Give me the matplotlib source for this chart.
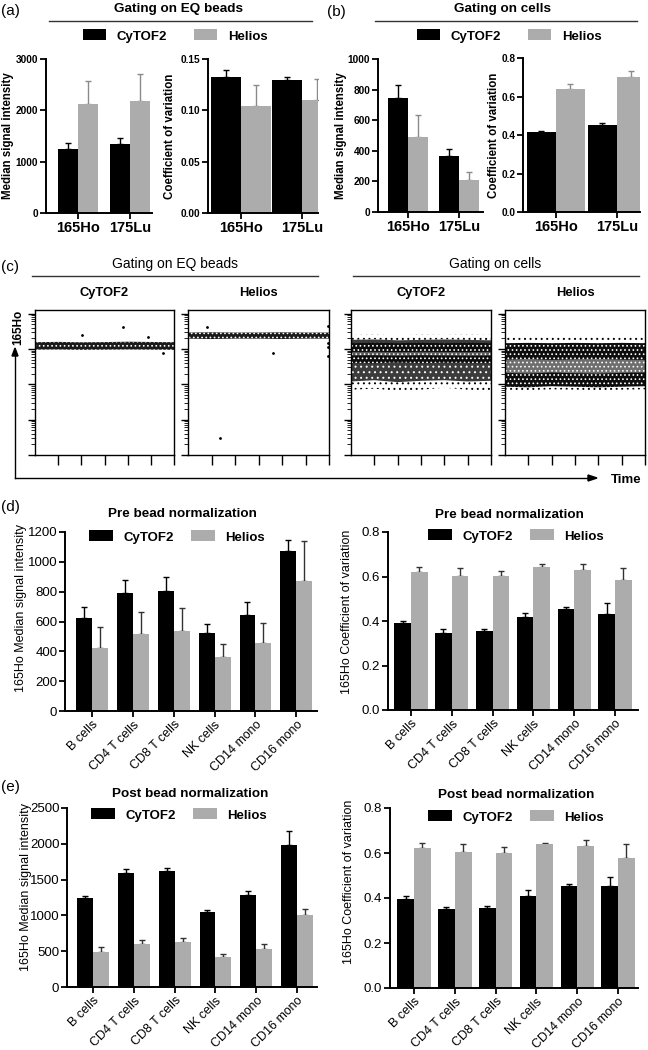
import numpy as np
import matplotlib.pyplot as plt
from matplotlib.lines import Line2D

plt.rcParams['font.family'] = ['Liberation Sans', 'DejaVu Sans']
plt.rcParams['hatch.linewidth'] = 0.7

W, H = 648, 1050
BLACK = 'black'
GREY = '#acacac'

# ---- data: panels (a) and (b) ----
isotopes = ['165Ho', '175Lu']
a_msi_cytof = [1240, 1340]
a_msi_cytof_err = [130, 115]
a_msi_helios = [2120, 2175]
a_msi_helios_err = [460, 525]
a_cv_cytof = [0.132, 0.130]
a_cv_cytof_err = [0.0075, 0.002]
a_cv_helios = [0.104, 0.110]
a_cv_helios_err = [0.021, 0.021]

b_msi_cytof = [748, 367]
b_msi_cytof_err = [85, 44]
b_msi_helios = [493, 207]
b_msi_helios_err = [140, 56]
b_cv_cytof = [0.413, 0.453]
b_cv_cytof_err = [0.010, 0.007]
b_cv_helios = [0.639, 0.701]
b_cv_helios_err = [0.027, 0.031]

# ---- data: panels (d) and (e) ----
cell_types = ['B cells', 'CD4 T cells', 'CD8 T cells', 'NK cells', 'CD14 mono', 'CD16 mono']
d_msi_cytof = [626, 794, 807, 525, 644, 1070]
d_msi_cytof_err = [69, 87, 90, 58, 87, 78]
d_msi_helios = [422, 516, 536, 359, 455, 872]
d_msi_helios_err = [139, 146, 153, 90, 135, 267]
d_cv_cytof = [0.393, 0.348, 0.357, 0.417, 0.455, 0.432]
d_cv_cytof_err = [0.006, 0.014, 0.006, 0.021, 0.006, 0.048]
d_cv_helios = [0.621, 0.604, 0.601, 0.642, 0.629, 0.585]
d_cv_helios_err = [0.022, 0.034, 0.025, 0.013, 0.026, 0.052]

e_msi_cytof = [1248, 1596, 1623, 1048, 1280, 1990]
e_msi_cytof_err = [27, 46, 37, 28, 65, 195]
e_msi_helios = [482, 603, 622, 422, 529, 1007]
e_msi_helios_err = [75, 56, 64, 33, 74, 83]
e_cv_cytof = [0.396, 0.350, 0.357, 0.410, 0.455, 0.452]
e_cv_cytof_err = [0.013, 0.011, 0.009, 0.026, 0.009, 0.040]
e_cv_helios = [0.621, 0.603, 0.599, 0.640, 0.630, 0.576]
e_cv_helios_err = [0.025, 0.037, 0.028, 0.006, 0.028, 0.064]

t_band = [0, 1, 2, 3, 4, 5, 6]
beads_cytof_lo = [950, 960, 940, 950, 960, 950, 940]
beads_cytof_hi = [1550, 1580, 1540, 1560, 1600, 1570, 1550]
beads_helios_lo = [1950, 1900, 1950, 1950, 1900, 1950, 1950]
beads_helios_hi = [2900, 2950, 2900, 2900, 2950, 2900, 2900]
beads_cytof_out_t = [2.03, 3.80, 4.88, 5.53]
beads_cytof_out_v = [2460, 4170, 2180, 770]
beads_helios_out_t = [0.81, 3.60, 1.36, 5.95, 5.95, 5.95, 5.95]
beads_helios_out_v = [4170, 780, 3.1, 4500, 1500, 1100, 650]

cells_cytof_sparse = ([70, 75, 65, 70, 80, 70, 65], [2500, 2600, 2400, 2600, 2500, 2600, 2500])
cells_cytof_mid = ([120, 130, 115, 125, 130, 120, 125], [1800, 1850, 1750, 1800, 1850, 1800, 1750])
cells_cytof_dense = ([400, 390, 420, 390, 410, 400, 390], [1450, 1500, 1450, 1500, 1450, 1500, 1450])
cells_cytof_core = ([650, 660, 640, 660, 650, 640, 650], [820, 830, 810, 830, 820, 810, 830])
cells_helios_sparse = ([70, 68, 72, 70, 68, 70, 72], [2400, 2500, 2400, 2500, 2400, 2500, 2400])
cells_helios_dense = ([85, 82, 88, 85, 82, 85, 88], [1450, 1480, 1450, 1480, 1450, 1480, 1450])
cells_helios_core = ([210, 200, 215, 205, 200, 210, 215], [500, 520, 490, 510, 520, 500, 490])


def px_axes(x0, y0, x1, y1):
    return fig.add_axes([x0 / W, 1 - y1 / H, (x1 - x0) / W, (y1 - y0) / H])


def fx(px):
    return px / W


def fy(py):
    return 1 - py / H


def grouped_bars(ax, cyt, cyt_err, hel, hel_err, w, hel_ecol, cap):
    x = np.arange(len(cyt))
    zeros = np.zeros(len(cyt))
    b1 = ax.bar(x - w / 2, cyt, w, color=BLACK, label='CyTOF2', zorder=2)
    b2 = ax.bar(x + w / 2, hel, w, color=GREY, label='Helios', zorder=2)
    ax.errorbar(x - w / 2, cyt, yerr=[zeros, cyt_err], fmt='none', ecolor=BLACK,
                elinewidth=1, capsize=cap, capthick=1, zorder=1)
    ax.errorbar(x + w / 2, hel, yerr=[zeros, hel_err], fmt='none', ecolor=hel_ecol,
                elinewidth=1, capsize=cap, capthick=1, zorder=1)
    return b1, b2


def style_bar_axes(ax, xlim, ylim, yticks, yfmt, ytick_size, bold):
    weight = 'bold' if bold else 'normal'
    ax.set_xlim(*xlim)
    ax.set_ylim(*ylim)
    ax.set_yticks(yticks)
    ax.set_yticklabels([yfmt.format(v) for v in yticks], fontsize=ytick_size, fontweight=weight)
    for s in ['top', 'right']:
        ax.spines[s].set_visible(False)
    for s in ['left', 'bottom']:
        ax.spines[s].set_linewidth(1.4)
    ax.tick_params(direction='out', length=4, width=1.3, pad=1.5)


def set_ylabel_px(ax, text, px_right, x0, x1, size, bold, ypos=0.5):
    ax.set_ylabel(text, fontsize=size, fontweight='bold' if bold else 'normal')
    ax.yaxis.set_label_coords((px_right - x0) / (x1 - x0), ypos)


def cloud(ax, lo_hi, face, dots, hatch):
    ax.fill_between(t_band, lo_hi[0], lo_hi[1], facecolor=face, edgecolor=dots,
                    hatch=hatch, linewidth=0)


fig = plt.figure(figsize=(6.48, 10.5), dpi=100)

# ================= (a) and (b) =================
ab_panels = [
    # rect, values, width, xlim, ylim, yticks, fmt, ylabel, label_px
    ((46, 59, 152, 213), (a_msi_cytof, a_msi_cytof_err, a_msi_helios, a_msi_helios_err), 0.385,
     (-0.615, 1.42), (0, 3000), [0, 1000, 2000, 3000], '{:.0f}', 'Median signal intensity', 14),
    ((208, 59, 318, 213), (a_cv_cytof, a_cv_cytof_err, a_cv_helios, a_cv_helios_err), 0.49,
     (-0.54, 1.26), (0, 0.15), [0, 0.05, 0.10, 0.15], '{:.2f}', 'Coefficient of variation', 176),
    ((378, 59, 483, 212), (b_msi_cytof, b_msi_cytof_err, b_msi_helios, b_msi_helios_err), 0.39,
     (-0.59, 1.47), (0, 1000), [0, 200, 400, 600, 800, 1000], '{:.0f}', 'Median signal intensity', 347),
    ((523, 58, 640, 212), (b_cv_cytof, b_cv_cytof_err, b_cv_helios, b_cv_helios_err), 0.475,
     (-0.54, 1.38), (0, 0.8), [0, 0.2, 0.4, 0.6, 0.8], '{:.1f}', 'Coefficient of variation', 500),
]
ab_axes = []
for rect, vals, w, xlim, ylim, yt, fmt, ylab, lpx in ab_panels:
    ax = px_axes(*rect)
    handles = grouped_bars(ax, *vals, w, '#8a8a8a', 2.2)
    style_bar_axes(ax, xlim, ylim, yt, fmt, 7.3, True)
    ax.set_xticks(np.arange(len(isotopes)))
    ax.set_xticklabels(isotopes, fontsize=10.5, fontweight='bold')
    set_ylabel_px(ax, ylab, lpx, rect[0], rect[2], 8.3, True)
    ab_axes.append((ax, handles))

for (ax, handles), cx in [(ab_axes[0], 175), (ab_axes[2], 509)]:
    ax.legend(handles, ['CyTOF2', 'Helios'], loc='center', ncol=2, frameon=False,
              bbox_to_anchor=(fx(cx), fy(36)), bbox_transform=fig.transFigure,
              prop={'size': 9.5, 'weight': 'bold'}, handlelength=1.8, handleheight=0.9,
              handletextpad=0.8, columnspacing=2.0, borderpad=0)

# section headers for (a), (b)
fig.text(fx(178), fy(9), 'Gating on EQ beads', ha='center', va='center', fontsize=9.7, fontweight='bold')
fig.add_artist(Line2D([fx(49), fx(312)], [fy(21), fy(21)], color='#333333', lw=1))
fig.text(fx(502), fy(9), 'Gating on cells', ha='center', va='center', fontsize=9.7, fontweight='bold')
fig.add_artist(Line2D([fx(375), fx(637)], [fy(21), fy(21)], color='#333333', lw=1))

# ================= (c) =================
c_rects = [(35, 310, 174, 455), (188, 310, 329, 455), (351, 310, 491, 455), (505, 310, 645, 455)]
c_titles = ['CyTOF2', 'Helios', 'CyTOF2', 'Helios']
c_axes = []
for rect, title in zip(c_rects, c_titles):
    ax = px_axes(*rect)
    ax.set_yscale('log')
    ax.set_ylim(1, 10 ** 4.1)
    ax.set_xlim(0, 6)
    ax.set_xticks([1, 2, 3, 4, 5, 6])
    ax.set_xticklabels([])
    ax.yaxis.set_ticklabels([], minor=True)
    ax.set_yticklabels([])
    ax.tick_params(axis='x', direction='out', length=7, width=1)
    ax.tick_params(axis='y', which='major', direction='out', length=5, width=1)
    ax.tick_params(axis='y', which='minor', direction='out', length=3, width=0.6)
    for s in ax.spines.values():
        s.set_linewidth(1)
    fig.text(fx((rect[0] + rect[2]) / 2), fy(293), title, ha='center', va='center',
             fontsize=9.3, fontweight='bold')
    c_axes.append(ax)

# beads
ax = c_axes[0]
cloud(ax, (beads_cytof_lo, beads_cytof_hi), '#1a1a1a', 'white', '....')
ax.scatter(beads_cytof_out_t, beads_cytof_out_v, s=1, color=BLACK)
ax = c_axes[1]
cloud(ax, (beads_helios_lo, beads_helios_hi), '#1a1a1a', 'white', '....')
ax.scatter(beads_helios_out_t, beads_helios_out_v, s=1, color=BLACK)

# cells CyTOF2
ax = c_axes[2]
cloud(ax, cells_cytof_sparse, 'none', BLACK, '...')
cloud(ax, cells_cytof_mid, '#3c3c3c', 'white', '...')
cloud(ax, cells_cytof_dense, '#0d0d0d', 'white', '....')
cloud(ax, cells_cytof_core, '#555555', 'white', '....')

# cells Helios
ax = c_axes[3]
cloud(ax, cells_helios_sparse, 'none', BLACK, '...')
cloud(ax, cells_helios_dense, '#0d0d0d', 'white', '....')
cloud(ax, cells_helios_core, '#6e6e6e', 'white', '....')

fig.text(fx(175), fy(264), 'Gating on EQ beads', ha='center', va='center', fontsize=10)
fig.add_artist(Line2D([fx(32), fx(318)], [fy(276), fy(276)], color='#333333', lw=1))
fig.text(fx(495), fy(264), 'Gating on cells', ha='center', va='center', fontsize=10)
fig.add_artist(Line2D([fx(353), fx(639)], [fy(276), fy(276)], color='#333333', lw=1))

# axis arrows
fig.add_artist(Line2D([fx(15), fx(15)], [fy(478), fy(356)], color=BLACK, lw=1))
fig.add_artist(Line2D([fx(15), fx(590)], [fy(478), fy(478)], color=BLACK, lw=1))
fig.patches.append(plt.Polygon([[fx(12), fy(356)], [fx(18), fy(356)], [fx(15), fy(348)]],
                               closed=True, color=BLACK, transform=fig.transFigure))
fig.patches.append(plt.Polygon([[fx(588), fy(475)], [fx(588), fy(481)], [fx(597), fy(478)]],
                               closed=True, color=BLACK, transform=fig.transFigure))
fig.text(fx(18), fy(327), '165Ho', rotation=90, ha='center', va='center', fontsize=8.5, fontweight='bold')
fig.text(fx(626), fy(480), 'Time', ha='center', va='center', fontsize=9.5, fontweight='bold')

# ================= (d) and (e) =================
de_panels = [
    ((65, 532, 317, 711), (d_msi_cytof, d_msi_cytof_err, d_msi_helios, d_msi_helios_err), 0.39,
     (-0.67, 5.51), (0, 1200), list(range(0, 1201, 200)), '{:.0f}', '165Ho Median signal intensity',
     27, 0.575, 'Pre bead normalization', 182, 514, 177, 537),
    ((388, 532, 638, 710), (d_cv_cytof, d_cv_cytof_err, d_cv_helios, d_cv_helios_err), 0.41,
     (-0.56, 5.56), (0, 0.8), [0, 0.2, 0.4, 0.6, 0.8], '{:.1f}', '165Ho Coefficient of variation',
     353, 0.55, 'Pre bead normalization', 509, 515, 516, 536),
    ((67, 808, 317, 987), (e_msi_cytof, e_msi_cytof_err, e_msi_helios, e_msi_helios_err), 0.39,
     (-0.64, 5.49), (0, 2500), list(range(0, 2501, 500)), '{:.0f}', '165Ho Median signal intensity',
     32, 0.56, 'Post bead normalization', 190, 794, 179, 815),
    ((390, 808, 638, 988), (e_cv_cytof, e_cv_cytof_err, e_cv_helios, e_cv_helios_err), 0.41,
     (-0.59, 5.49), (0, 0.8), [0, 0.2, 0.4, 0.6, 0.8], '{:.1f}', '165Ho Coefficient of variation',
     355, 0.59, 'Post bead normalization', 516, 795, 516, 817),
]
for rect, vals, w, xlim, ylim, yt, fmt, ylab, lpx, lyp, title, tx, ty, lx, ly in de_panels:
    ax = px_axes(*rect)
    handles = grouped_bars(ax, *vals, w, '#333333', 2.5)
    style_bar_axes(ax, xlim, ylim, yt, fmt, 9.5, False)
    ax.set_xticks(np.arange(len(cell_types)))
    ax.set_xticklabels(cell_types, fontsize=9, rotation=45, ha='right', rotation_mode='anchor')
    set_ylabel_px(ax, ylab, lpx, rect[0], rect[2], 9, False, lyp)
    fig.text(fx(tx), fy(ty), title, ha='center', va='center', fontsize=9.7, fontweight='bold')
    ax.legend(handles, ['CyTOF2', 'Helios'], loc='center', ncol=2, frameon=False,
              bbox_to_anchor=(fx(lx), fy(ly)), bbox_transform=fig.transFigure,
              prop={'size': 9.5, 'weight': 'bold'}, handlelength=1.8, handleheight=0.9,
              handletextpad=0.8, columnspacing=1.3, borderpad=0)

# panel letters
for lab, x, y in [('(a)', 1, 11), ('(b)', 327, 12), ('(c)', 1, 267), ('(d)', 1, 507), ('(e)', 1, 787)]:
    fig.text(fx(x), fy(y), lab, ha='left', va='center', fontsize=11)

fig.savefig('out.png', dpi=100)
